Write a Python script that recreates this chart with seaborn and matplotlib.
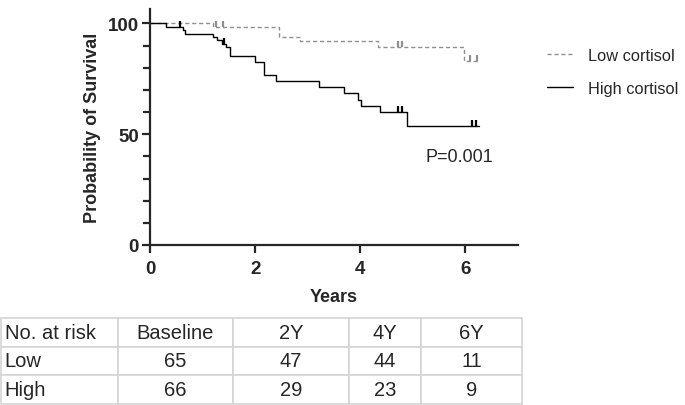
import matplotlib
matplotlib.use("Agg")
import matplotlib.pyplot as plt
import seaborn as sns
import pandas as pd

# -----------------------------
# Data
# -----------------------------
low_times = [0, 1.20, 2.46, 2.86, 4.33, 5.98, 6.25]
low_surv = [100, 98.5, 93.8, 92.0, 89.5, 83.0, 83.0]
low_cens_t = [1.25, 1.38, 4.71, 4.80, 6.08, 6.22]
low_cens_s = [98.5, 98.5, 89.5, 89.5, 83.0, 83.0]

high_times = [0, 0.30, 0.62, 0.67, 1.20, 1.27, 1.37, 1.45, 1.53, 1.99, 2.16,
              2.39, 3.21, 3.69, 3.96, 4.02, 4.38, 4.88, 6.25]
high_surv = [100, 98.5, 97.0, 95.4, 93.9, 92.3, 90.8, 89.2, 85.5, 82.7, 76.8,
             74.2, 71.4, 68.5, 65.5, 62.8, 59.8, 53.8, 53.8]
high_cens_t = [0.57, 1.40, 4.72, 4.80, 6.12, 6.21]
high_cens_s = [98.5, 90.8, 59.8, 59.8, 53.8, 53.8]

risk_header = ["No. at risk", "Baseline", "2Y", "4Y", "6Y"]
risk_low = ["Low", "65", "47", "44", "11"]
risk_high = ["High", "66", "29", "23", "9"]

p_text = "P=0.001"

sns.set_style("ticks")
plt.rcParams["font.family"] = ["Liberation Sans", "DejaVu Sans"]

fig = plt.figure(figsize=(6.85, 4.06), dpi=100)
ax = fig.add_axes([150 / 685, 1 - 246 / 406, 368 / 685, 236 / 406])

low_df = pd.DataFrame({"t": low_times, "s": low_surv})
high_df = pd.DataFrame({"t": high_times, "s": high_surv})

sns.lineplot(data=low_df, x="t", y="s", ax=ax, drawstyle="steps-post",
             estimator=None, sort=False, color="#8f8f8f", lw=1.0,
             linestyle=(0, (3, 2)), label="Low cortisol")
sns.lineplot(data=high_df, x="t", y="s", ax=ax, drawstyle="steps-post",
             estimator=None, sort=False, color="black", lw=1.0,
             label="High cortisol")

# censor ticks
ax.plot(low_cens_t, low_cens_s, linestyle="none", marker=2, markersize=4,
        mew=1.6, color="#8f8f8f")
ax.plot(high_cens_t, high_cens_s, linestyle="none", marker=2, markersize=4,
        mew=1.6, color="black")

ax.set_xlim(0, 7)
ax.set_ylim(0, 106.5)
ax.set_xticks([0, 2, 4, 6])
ax.set_yticks([0, 50, 100])
ax.set_yticks(range(10, 100, 10), minor=True)
sns.despine(ax=ax)
for sp in ["left", "bottom"]:
    ax.spines[sp].set_linewidth(1.6)
ax.tick_params(axis="both", which="major", width=1.6, length=6, labelsize=13.5)
ax.tick_params(axis="x", which="major", pad=5)
ax.tick_params(axis="y", which="major", pad=2)
ax.tick_params(axis="y", which="minor", width=1.6, length=5)
for lab in ax.get_xticklabels() + ax.get_yticklabels():
    lab.set_fontweight("bold")

ax.set_xlabel("Years", fontsize=13, fontweight="bold", labelpad=8)
ax.set_ylabel("Probability of Survival", fontsize=13, fontweight="bold",
              labelpad=5)

ax.text(5.88, 40, p_text, fontsize=13, ha="center", va="center")

ax.legend(loc="upper left", bbox_to_anchor=(540 / 685, 1 - 42 / 406),
          bbox_transform=fig.transFigure, frameon=False, fontsize=11.8,
          handlelength=1.6, handletextpad=0.95, labelspacing=1.1,
          borderaxespad=0)

# -----------------------------
# Number at risk table
# -----------------------------
tab_ax = fig.add_axes([1 / 685, 1 - 405 / 406, 521 / 685, 86 / 406])
tab_ax.axis("off")
col_w = [117, 115, 116, 72, 101]
col_w = [w / sum(col_w) for w in col_w]
tab = tab_ax.table(cellText=[risk_header, risk_low, risk_high],
                   colWidths=col_w, cellLoc="center", bbox=[0, 0, 1, 1])
tab.auto_set_font_size(False)
for (r, c), cell in tab.get_celld().items():
    cell.set_edgecolor("#d4d4d4")
    cell.set_linewidth(1.2)
    cell.get_text().set_fontsize(14.5)
    if c == 0:
        cell._loc = "left"
        cell.PAD = 0.03
        cell.get_text().set_ha("left")

fig.savefig("out.png", dpi=100)
plt.close(fig)
